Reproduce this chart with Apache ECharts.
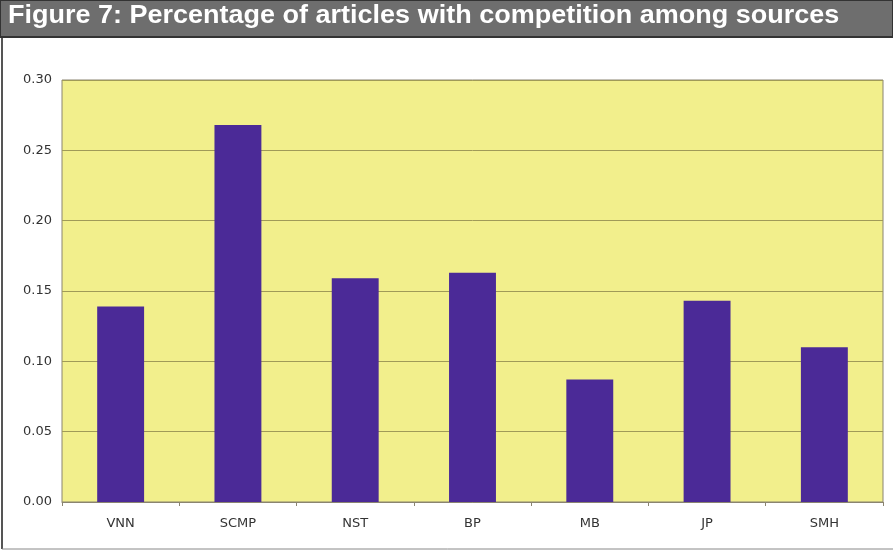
<!DOCTYPE html>
<html><head><meta charset="utf-8">
<script src="https://cdn.jsdelivr.net/npm/echarts@6/dist/echarts.min.js"></script>
<style>html,body{margin:0;padding:0;background:#fff}#c{width:893px;height:551px}</style>
</head><body><div id="c"></div>
<script>
const categories = ['VNN','SCMP','NST','BP','MB','JP','SMH'];
const values = [0.139, 0.268, 0.159, 0.163, 0.087, 0.143, 0.110];
const yTicks = {min:0, max:0.30, interval:0.05};
const titleText = 'Figure 7: Percentage of articles with competition among sources';

const chart = echarts.init(document.getElementById('c'), null, {renderer:'canvas'});
chart.setOption({
  animation:false,
  backgroundColor:'#ffffff',
  graphic:[
    {type:'rect', shape:{x:0,y:0,width:893,height:37}, style:{fill:'#6e6e6e', stroke:'#333', lineWidth:2}, z:1},
    {type:'text', left:8, top:4, scaleX:1.08, style:{text:titleText, fill:'#ffffff', font:'bold 25px "Liberation Sans", Arial, sans-serif'}, z:2},
    {type:'line', shape:{x1:2,y1:37,x2:2,y2:549}, style:{stroke:'#555', lineWidth:2}},
    {type:'line', shape:{x1:2,y1:549,x2:893,y2:549}, style:{stroke:'#888', lineWidth:1}}
  ],
  grid:{left:62, right:10, top:80, bottom:49, containLabel:false, show:true, backgroundColor:'#f2ef8c', borderColor:'#8a8470', borderWidth:1},
  xAxis:{type:'category', data:categories,
    axisLine:{lineStyle:{color:'#8a8470'}},
    axisTick:{show:true, length:4, lineStyle:{color:'#8a8470'}},
    axisLabel:{color:'#333', fontSize:13, fontFamily:'"DejaVu Sans", Verdana, sans-serif', margin:15}},
  yAxis:{type:'value', min:yTicks.min, max:yTicks.max, interval:yTicks.interval,
    axisLine:{show:false}, axisTick:{show:false},
    splitLine:{lineStyle:{color:'#a09a58', width:1}},
    axisLabel:{color:'#333', fontSize:13, fontFamily:'"DejaVu Sans", Verdana, sans-serif', margin:10,
      formatter:v=>v.toFixed(2)}},
  series:[{type:'bar', data:values, barWidth:'40%', itemStyle:{color:'#4b2a97'}}]
});
</script></body></html>
